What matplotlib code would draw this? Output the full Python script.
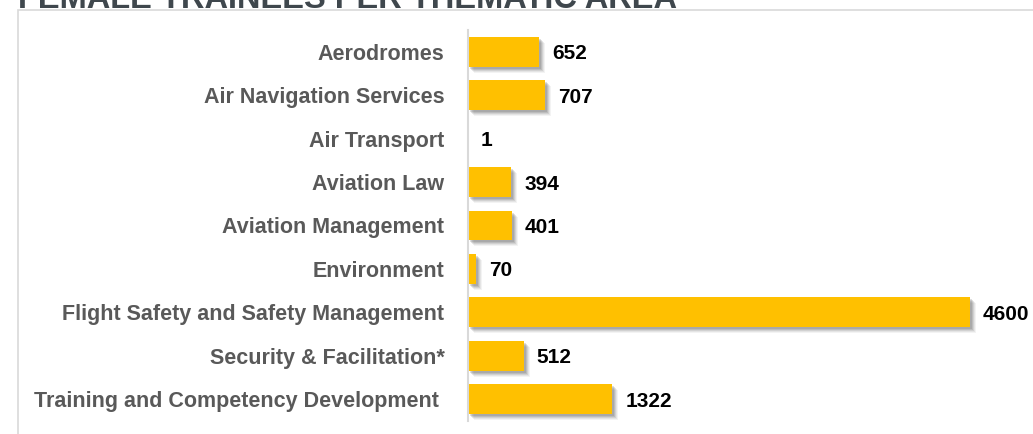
import matplotlib
matplotlib.use('Agg')
import matplotlib.pyplot as plt
import matplotlib.transforms as mtransforms
from matplotlib.patches import Rectangle

# data
areas = ['Aerodromes', 'Air Navigation Services', 'Air Transport', 'Aviation Law',
         'Aviation Management', 'Environment', 'Flight Safety and Safety Management',
         'Security & Facilitation*', 'Training and Competency Development ']
trainees = [652, 707, 1, 394, 401, 70, 4600, 512, 1322]
title = 'FEMALE TRAINEES PER THEMATIC AREA'

plt.rcParams['font.family'] = ['Liberation Sans', 'DejaVu Sans']

fig = plt.figure(figsize=(10.33, 4.34), dpi=100)
ax = fig.add_axes([468 / 1033, 1 - 421 / 434, 555 / 1033, 391 / 434])

y = range(len(areas))

# soft drop shadow behind bars
for dx, dy, a in [(6, -6, 0.07), (5, -5, 0.1), (4, -4, 0.14), (3, -3, 0.18), (2, -2, 0.2)]:
    off = mtransforms.ScaledTranslation(dx / 100, dy / 100, fig.dpi_scale_trans)
    ax.barh(y, trainees, height=0.69, color='#606060', alpha=a,
            transform=ax.transData + off, zorder=1)

ax.barh(y, trainees, height=0.69, color='#FFC000', zorder=2)

for i, v in enumerate(trainees):
    ax.annotate(str(v), (v, i), xytext=(13, 0), textcoords='offset pixels',
                ha='left', va='center_baseline', fontsize=15, fontweight='bold',
                color='black')

ax.set_xlim(0, 5085)
ax.set_ylim(len(areas) - 0.5, -0.5)
ax.set_yticks(list(y))
ax.set_yticklabels(areas, fontsize=15.5, fontweight='bold', color='#595959')
ax.tick_params(axis='y', length=0, pad=17)
ax.set_xticks([])
for s in ['top', 'right', 'bottom']:
    ax.spines[s].set_visible(False)
ax.spines['left'].set_color('#d9d9d9')
ax.spines['left'].set_linewidth(1.5)

# outer frame, partly cut off
fig.patches.append(Rectangle((18 / 1033, -0.1), 1.2, 1 - 10 / 434 + 0.1,
                             transform=fig.transFigure, fill=False,
                             edgecolor='#d9d9d9', linewidth=1.2))

fig.text(18 / 1033, 1 - 8 / 434, title, fontsize=23.5, fontweight='bold',
         color='#3f474d', ha='left', va='baseline')

fig.savefig('out.png', dpi=100)
